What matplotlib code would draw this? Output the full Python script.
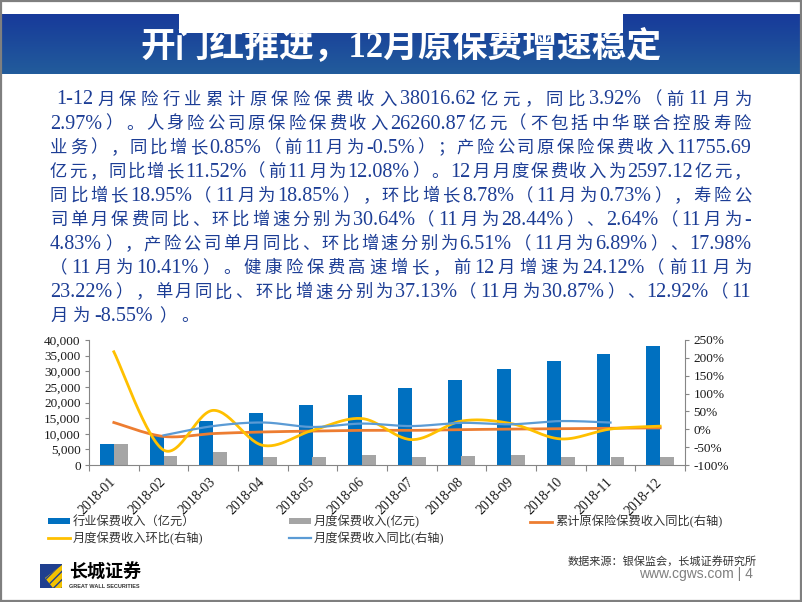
import numpy as np
import matplotlib
matplotlib.use('Agg')
import matplotlib.pyplot as plt
from matplotlib.patches import Rectangle, Polygon
from matplotlib.font_manager import FontProperties

plt.rcParams['font.family'] = ['Liberation Serif', 'Noto Sans CJK SC', 'DejaVu Sans']

# data
months = ['2018-01', '2018-02', '2018-03', '2018-04', '2018-05', '2018-06',
          '2018-07', '2018-08', '2018-09', '2018-10', '2018-11', '2018-12']
total_income = [6734, 9739, 14194, 16640, 19079, 22369, 24640, 27276, 30850, 33250, 35650, 38017]
month_income = [6734, 2900, 4300, 2500, 2450, 3250, 2500, 2850, 3300, 2550, 2550, 2597]
cum_yoy = [19, -20, -12, -7.5, -5, -3, -3, -1, 0.6, 1.5, 2.97, 3.92]
month_mom = [217, -58, 53, -45, -3, 30, -29, 23, 16, -27, 0.73, 8.78]
month_yoy = [np.nan, -17, 9, 19, 6.5, 16, 9, 18, 14, 23, 18.85, np.nan]

para = [
    "1-12月保险行业累计原保险保费收入38016.62亿元，同比3.92%（前11月为",
    "2.97%）。人身险公司原保险保费收入26260.87亿元（不包括中华联合控股寿险",
    "业务），同比增长0.85%（前11月为-0.5%）；产险公司原保险保费收入11755.69",
    "亿元，同比增长11.52%（前11月为12.08%）。12月月度保费收入为2597.12亿元，",
    "同比增长18.95%（11月为18.85%），环比增长8.78%（11月为0.73%），寿险公",
    "司单月保费同比、环比增速分别为30.64%（11月为28.44%）、2.64%（11月为-",
    "4.83%），产险公司单月同比、环比增速分别为6.51%（11月为6.89%）、17.98%",
    "（11月为10.41%）。健康险保费高速增长，前12月增速为24.12%（前11月为",
    "23.22%），单月同比、环比增速分别为37.13%（11月为30.87%）、12.92%（11",
    "月为-8.55%）。",
]

BLUE_TXT = '#1c3d95'


def smooth(xs, ys, n=30):
    # Excel-like smoothed line (Catmull-Rom bezier)
    xs = np.asarray(xs, float)
    ys = np.asarray(ys, float)
    ok = np.isfinite(ys)
    xs, ys = xs[ok], ys[ok]
    m = len(xs)
    t = np.linspace(0, 1, n)
    ox, oy = [], []
    for i in range(m - 1):
        a, b = max(i - 1, 0), min(i + 2, m - 1)
        p0 = np.array([xs[i], ys[i]])
        p3 = np.array([xs[i + 1], ys[i + 1]])
        p1 = p0 + (p3 - np.array([xs[a], ys[a]])) / 6
        p2 = p3 - (np.array([xs[b], ys[b]]) - p0) / 6
        pts = (np.outer((1 - t) ** 3, p0) + np.outer(3 * (1 - t) ** 2 * t, p1)
               + np.outer(3 * (1 - t) * t ** 2, p2) + np.outer(t ** 3, p3))
        ox.extend(pts[:, 0])
        oy.extend(pts[:, 1])
    return ox, oy


fig = plt.figure(figsize=(8.02, 6.02), dpi=100)
renderer = fig.canvas.get_renderer()

# background layer in pixel coordinates
bg = fig.add_axes([0, 0, 1, 1])
bg.set_xlim(0, 802)
bg.set_ylim(602, 0)
bg.axis('off')

grad = np.linspace(0, 1, 60)[:, None]
c_top = np.array([0x17, 0x3a, 0x9a]) / 255
c_bot = np.array([0x22, 0x5c, 0x9c]) / 255
img = c_top[None, None, :] * (1 - grad[:, :, None]) + c_bot[None, None, :] * grad[:, :, None]
bg.imshow(img, extent=[0, 802, 74, 14], aspect='auto', zorder=1)
bg.add_patch(Rectangle((179, 13), 444, 20, facecolor='white', edgecolor='none', zorder=2))
bg.text(401, 48, '开门红推进，12月原保费增速稳定', color='white', fontsize=25,
        fontweight='bold', ha='center', va='center', zorder=3)
bg.add_patch(Rectangle((0.8, 0.8), 800.4, 600.4, facecolor='none', edgecolor='#7f7f7f',
                       lw=1.6, zorder=5))


# justified paragraph
def is_latin(s):
    return ord(s[0]) < 128


def split_tokens(line):
    toks, run = [], ''
    for ch in line:
        if ord(ch) < 128:
            run += ch
        else:
            if run:
                toks.append(run)
                run = ''
            toks.append(ch)
    if run:
        toks.append(run)
    return toks


EM = 12.5 * 100 / 72


def draw_line(line, x0, x1, ybase, justify=True):
    toks = split_tokens(line)
    items = []
    for tk in toks:
        if is_latin(tk):
            t = bg.text(0, ybase, tk, fontsize=14.5, family='Liberation Serif',
                        color=BLUE_TXT, va='baseline', ha='left')
            w = t.get_window_extent(renderer).width
        else:
            t = bg.text(0, ybase, tk, fontsize=12.5, family='Noto Sans CJK SC',
                        color=BLUE_TXT, va='baseline', ha='center')
            w = EM
        items.append((tk, t, w))
    total = sum(w for _, _, w in items)
    gap = (x1 - x0 - total) / (len(items) - 1) if justify else 5.0
    x = x0
    for tk, t, w in items:
        if is_latin(tk):
            t.set_x(x)
        elif tk in '，。、；：）':
            t.set_ha('left')
            t.set_x(x + 0.5)
        elif tk == '（':
            t.set_ha('right')
            t.set_x(x + w - 0.5)
        else:
            t.set_x(x + w / 2)
        x += w + gap


for i, line in enumerate(para):
    yb = 98 + 24.1 * i + 6.5
    left = 56 if i == 0 else 50
    draw_line(line, left, 751, yb, justify=(i < len(para) - 1))

# chart
x = np.arange(len(months))
ax = fig.add_axes([89 / 802, 1 - 465 / 602, 596 / 802, 125 / 602])
ax2 = ax.twinx()
ax.set_zorder(2)
ax2.set_zorder(3)
ax.patch.set_visible(False)

b1 = ax.bar(x - 0.14, total_income, 0.28, color='#0070C0', zorder=2)
b2 = ax.bar(x + 0.14, month_income, 0.28, color='#A5A5A5', zorder=2)
ax.set_xlim(-0.5, len(months) - 0.5)
ax.set_ylim(0, 40000)
ax.set_yticks(np.arange(0, 40001, 5000))
ax.set_yticklabels(['{:,.0f}'.format(v) for v in np.arange(0, 40001, 5000)])

sx, sy = smooth(x, cum_yoy)
l1, = ax2.plot(sx, sy, color='#ED7D31', lw=2.0)
sx, sy = smooth(x, month_mom)
l2, = ax2.plot(sx, sy, color='#FFC000', lw=2.0)
sx, sy = smooth(x, month_yoy)
l3, = ax2.plot(sx, sy, color='#5B9BD5', lw=1.6)
ax2.set_ylim(-100, 250)
ax2.set_yticks(np.arange(-100, 251, 50))
ax2.set_yticklabels(['{:.0f}%'.format(v) for v in np.arange(-100, 251, 50)])

axis_c = '#868686'
for a in (ax, ax2):
    for s in a.spines.values():
        s.set_visible(False)
    a.tick_params(axis='y', colors=axis_c, labelcolor='#1a1a1a', labelsize=9.5,
                  length=3, width=0.8, pad=3)
ax.spines['left'].set_visible(True)
ax.spines['left'].set_color(axis_c)
ax.spines['bottom'].set_visible(True)
ax.spines['bottom'].set_color(axis_c)
ax2.spines['right'].set_visible(True)
ax2.spines['right'].set_color(axis_c)

ax.set_xticks(x)
ax.set_xticklabels(months, rotation=45, ha='right', va='center', rotation_mode='anchor',
                   fontsize=10, color='#1a1a1a')
ax.tick_params(axis='x', length=0, pad=11)
ax.set_xticks(np.arange(-0.5, len(months), 1), minor=True)
ax.tick_params(axis='x', which='minor', length=4, color=axis_c, width=0.8)

# legend
handles = [b1, l2, b2, l3, l1]
labels = ['行业保费收入（亿元）', '月度保费收入环比(右轴)', '月度保费收入(亿元)',
          '月度保费收入同比(右轴)', '累计原保险保费收入同比(右轴)']
fig.legend(handles, labels, ncol=3, loc='upper left',
           bbox_to_anchor=(48 / 802, 1 - 515 / 602), frameon=False,
           borderaxespad=0, borderpad=0, handlelength=1.8, handleheight=0.4,
           handletextpad=0.25, columnspacing=7.0, labelspacing=0.3,
           prop=FontProperties(family=['Liberation Serif', 'Noto Sans CJK SC'], size=8.8),
           labelcolor='#333333')

# footer
bg.text(757, 561, '数据来源：银保监会，长城证券研究所', fontsize=8, family='Noto Sans CJK SC',
        color='#333333', ha='right', va='center')
bg.text(753, 574, 'www.cgws.com | 4', fontsize=10, family='Liberation Sans',
        color='#7f7f7f', ha='right', va='center')

# logo
bg.add_patch(Rectangle((40, 564), 22, 24, facecolor='#1f3f8f', edgecolor='none', zorder=3))
bg.add_patch(Polygon([(45, 578), (62, 565), (62, 588), (53, 588)], closed=True,
                     facecolor='#f2c200', edgecolor='#1f3f8f', hatch='////', lw=0, zorder=4))
bg.text(69, 572, '长城证券', fontsize=13, family='Noto Sans CJK SC', fontweight='bold',
        color='black', ha='left', va='center')
bg.text(69, 586.5, 'GREAT WALL SECURITIES', fontsize=4, family='Liberation Sans',
        fontweight='bold', color='#333333', ha='left', va='center')

fig.savefig('out.png', dpi=100)
